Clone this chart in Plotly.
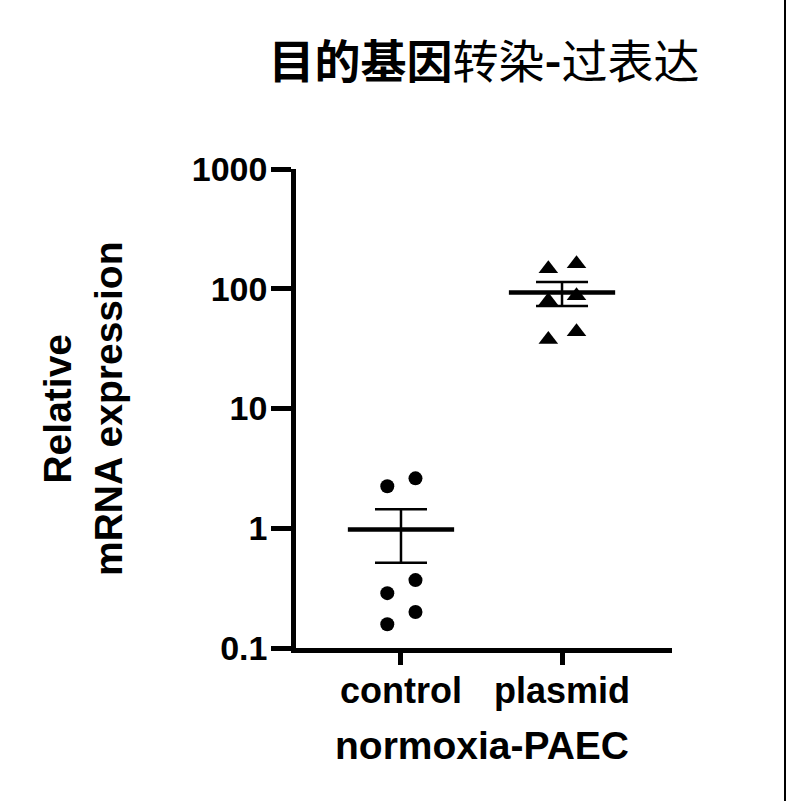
import numpy as np
import plotly.graph_objects as go

# ── data ────────────────────────────────────────────────────────────────
groups = ["control", "plasmid"]
control_vals = [2.24, 2.61, 0.158, 0.20, 0.287, 0.369]
plasmid_vals = [147, 162, 79.4, 87.4, 37.6, 43.8]
jitter = [-0.085, 0.09, -0.085, 0.09, -0.085, 0.09]
y_ticks = [0.1, 1, 10, 100, 1000]
y_ticktext = ["0.1", "1", "10", "100", "1000"]

# ── layout constants (body margin removed via post_script) ──────────────
W, H = 786, 801
ML, MT = 296, 169
plot_w, plot_h = 376, 479
MR = W - ML - plot_w
MB = H - MT - plot_h
BLACK = "#000000"
FONT = "Liberation Sans, Arial, sans-serif"
CJK = "Noto Sans CJK SC, sans-serif"


def px_x(x):
    """page pixel -> paper x"""
    return (x - ML) / plot_w


def px_y(y):
    """page pixel -> paper y"""
    return (MT + plot_h - y) / plot_h


fig = go.Figure()

series = [(0, control_vals, "circle", 14), (1, plasmid_vals, "triangle-up", 17)]
for xpos, vals, sym, size in series:
    arr = np.array(vals)
    mean = arr.mean()
    sem = arr.std(ddof=1) / np.sqrt(len(arr))

    # individual points
    fig.add_trace(go.Scatter(
        x=[xpos + j for j in jitter], y=vals,
        mode="markers",
        marker=dict(symbol=sym, size=size, color=BLACK),
        showlegend=False,
    ))
    # SEM error bar
    fig.add_trace(go.Scatter(
        x=[xpos], y=[mean],
        mode="markers",
        marker=dict(size=0.1, color=BLACK),
        error_y=dict(type="data", array=[sem], visible=True,
                     color=BLACK, thickness=2.5, width=26),
        showlegend=False,
    ))
    # mean line
    fig.add_trace(go.Scatter(
        x=[xpos - 0.33, xpos + 0.33], y=[mean, mean],
        mode="lines",
        line=dict(color=BLACK, width=4.5),
        showlegend=False,
    ))

fig.update_layout(
    width=W, height=H,
    margin=dict(l=ML, r=MR, t=MT, b=MB, autoexpand=False),
    paper_bgcolor="white",
    plot_bgcolor="white",
    font=dict(family=FONT, color=BLACK),
    title=dict(
        text="<b>目的基因</b>转染<b>-</b>过表达",
        font=dict(family=CJK, size=46, color=BLACK),
        x=484 / W, xanchor="center", xref="container",
        y=1 - 62 / H, yanchor="middle", yref="container",
    ),
    xaxis=dict(
        range=[-0.652, 1.683],
        tickvals=[0, 1], ticktext=groups,
        showline=True, linecolor=BLACK, linewidth=4.5,
        ticks="outside", ticklen=12, tickwidth=4.5, tickcolor=BLACK,
        showgrid=False, zeroline=False, ticklabelstandoff=-5,
        tickfont=dict(family=FONT, size=36, color=BLACK, weight="bold"),
    ),
    yaxis=dict(
        type="log", range=[-1, 3],
        tickvals=y_ticks, ticktext=y_ticktext,
        showline=True, linecolor=BLACK, linewidth=4.5,
        ticks="outside", ticklen=20, tickwidth=4.5, tickcolor=BLACK,
        showgrid=False, zeroline=False, ticklabelstandoff=-3,
        tickfont=dict(family=FONT, size=34, color=BLACK, weight="bold"),
    ),
    annotations=[
        dict(text="<b>Relative<br>mRNA expression</b>",
             x=px_x(83), y=px_y(408), xref="paper", yref="paper",
             xanchor="center", yanchor="middle",
             textangle=-90, showarrow=False,
             font=dict(family=FONT, size=39, color=BLACK)),
        dict(text="<b>normoxia-PAEC</b>",
             x=px_x(482), y=px_y(745),
             xref="paper", yref="paper", showarrow=False,
             xanchor="center", yanchor="middle",
             font=dict(family=FONT, size=39, color=BLACK)),
    ],
    shapes=[
        # thin frame line on the right edge of the image
        dict(type="line", xref="paper", yref="paper",
             x0=px_x(785), x1=px_x(785),
             y0=px_y(H), y1=px_y(0),
             line=dict(color=BLACK, width=2), layer="above"),
    ],
)

fig.write_html(
    "out.html",
    config={"displayModeBar": False},
    post_script="document.body.style.margin='0';"
                "document.body.style.overflow='hidden';",
)
